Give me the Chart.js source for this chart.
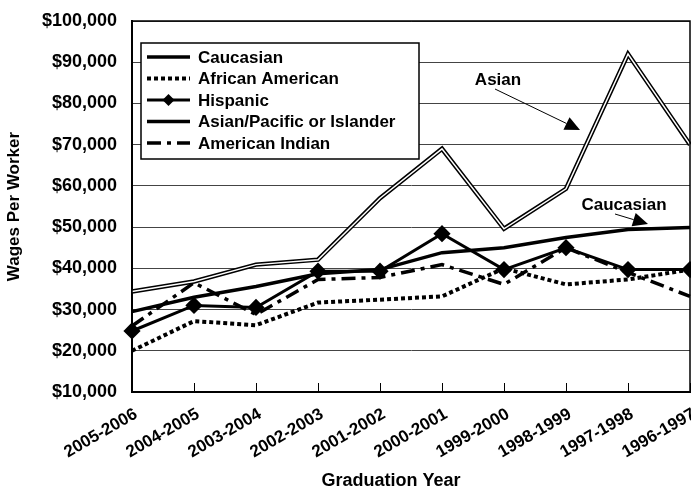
<!DOCTYPE html>
<html lang="en">
<head>
<meta charset="UTF-8">
<script src="https://cdn.jsdelivr.net/npm/chart.js"></script>
<title>Wages Per Worker by Graduation Year</title>
<style>
  html, body { margin: 0; padding: 0; background: #fff; }
  canvas { display: block; }
</style>
</head>
<body>
<canvas id="wages" width="691" height="497"></canvas>
<script>
const years = ['2005-2006', '2004-2005', '2003-2004', '2002-2003', '2001-2002',
               '2000-2001', '1999-2000', '1998-1999', '1997-1998', '1996-1997'];
const caucasian       = [29500, 33000, 35600, 38700, 39700, 43800, 45000, 47500, 49400, 49900];
const africanAmerican = [20000, 27200, 26200, 31700, 32400, 33200, 40000, 36100, 37300, 39700];
const hispanic        = [24800, 31000, 30500, 39300, 39300, 48400, 39700, 45000, 39700, 39700];
const asianPacific    = [34400, 36800, 40900, 42100, 57000, 69000, 49600, 59300, 92000, 70000];
const americanIndian  = [26000, 36500, 28800, 37300, 37800, 40900, 36100, 45000, 39000, 33200];
const yTicks = { min: 10000, max: 100000, step: 10000 };

const FONT = "'Liberation Sans', Arial, sans-serif";
Chart.defaults.font.family = FONT;
Chart.defaults.font.weight = 'bold';
Chart.defaults.font.size = 17;
Chart.defaults.color = '#000';

const legendItems = [
  { text: 'Caucasian', width: 3.5, dash: [] },
  { text: 'African American', width: 4, dash: [4, 3] },
  { text: 'Hispanic', width: 3, dash: [], marker: true },
  { text: 'Asian/Pacific or Islander', width: 3.5, dash: [] },
  { text: 'American Indian', width: 3.5, dash: [14, 6, 4, 6] }
];

// frame, inner x ticks, slanted category labels, legend box and call-outs
const decorations = {
  id: 'decorations',
  afterDatasetsDraw(chart) {
    const { ctx, chartArea: a, scales: { x } } = chart;
    ctx.save();
    ctx.strokeStyle = '#000';
    ctx.fillStyle = '#000';
    ctx.lineWidth = 1.5;
    ctx.strokeRect(a.left, a.top, a.right - a.left, a.bottom - a.top);

    ctx.font = 'bold 17px ' + FONT;
    ctx.textAlign = 'right';
    ctx.textBaseline = 'middle';
    years.forEach((lab, i) => {
      const px = x.getPixelForValue(i);
      ctx.lineWidth = 1;
      ctx.beginPath();
      ctx.moveTo(Math.round(px) + 0.5, a.bottom);
      ctx.lineTo(Math.round(px) + 0.5, a.bottom - 9);
      ctx.stroke();
      ctx.save();
      ctx.translate(px + 4, a.bottom + 21);
      ctx.rotate(-Math.PI / 6);
      ctx.fillText(lab, 0, 0);
      ctx.restore();
    });

    ctx.textAlign = 'center';
    ctx.font = 'bold 18px ' + FONT;
    ctx.fillText('Graduation Year', 391, 481);

    // legend
    const lx = a.left + 9, ly = a.top + 22, lw = 278, lh = 116;
    ctx.fillStyle = '#fff';
    ctx.fillRect(lx, ly, lw, lh);
    ctx.lineWidth = 1.5;
    ctx.strokeRect(lx, ly, lw, lh);
    ctx.font = 'bold 17px ' + FONT;
    ctx.textAlign = 'left';
    legendItems.forEach((it, i) => {
      const cy = ly + 14 + i * 21.5;
      ctx.lineWidth = it.width;
      ctx.setLineDash(it.dash);
      ctx.beginPath();
      ctx.moveTo(lx + 6, cy);
      ctx.lineTo(lx + 49, cy);
      ctx.stroke();
      ctx.setLineDash([]);
      ctx.fillStyle = '#000';
      if (it.marker) {
        ctx.beginPath();
        ctx.moveTo(lx + 27.5, cy - 6);
        ctx.lineTo(lx + 33.5, cy);
        ctx.lineTo(lx + 27.5, cy + 6);
        ctx.lineTo(lx + 21.5, cy);
        ctx.closePath();
        ctx.fill();
      }
      ctx.fillText(it.text, lx + 57, cy + 1);
    });

    // call-outs
    const arrow = (x1, y1, x2, y2) => {
      const ang = Math.atan2(y2 - y1, x2 - x1);
      const hl = 15, hw = 7;
      const bx = x2 - hl * Math.cos(ang), by = y2 - hl * Math.sin(ang);
      ctx.lineWidth = 1;
      ctx.beginPath();
      ctx.moveTo(x1, y1);
      ctx.lineTo(bx, by);
      ctx.stroke();
      ctx.beginPath();
      ctx.moveTo(x2, y2);
      ctx.lineTo(bx + hw * Math.sin(ang), by - hw * Math.cos(ang));
      ctx.lineTo(bx - hw * Math.sin(ang), by + hw * Math.cos(ang));
      ctx.closePath();
      ctx.fill();
    };
    ctx.textAlign = 'center';
    ctx.fillText('Asian', 498, 80);
    arrow(495, 89, 580, 130);
    ctx.fillText('Caucasian', 624, 205);
    arrow(615, 214, 648, 224);
    ctx.restore();
  }
};

const plain = { pointRadius: 0, fill: false, tension: 0, borderColor: '#000', clip: false };

new Chart(document.getElementById('wages'), {
  type: 'line',
  data: {
    labels: years,
    datasets: [
      { ...plain, label: 'Asian inner', data: asianPacific, borderColor: '#fff', borderWidth: 1.5 },
      { ...plain, label: 'Asian/Pacific or Islander', data: asianPacific, borderWidth: 4.5 },
      { ...plain, label: 'Hispanic', data: hispanic, borderWidth: 3,
        pointStyle: 'rectRot', pointRadius: 6.5, pointBackgroundColor: '#000', pointBorderColor: '#000' },
      { ...plain, label: 'Caucasian', data: caucasian, borderWidth: 3.5 },
      { ...plain, label: 'American Indian', data: americanIndian, borderWidth: 3.5, borderDash: [14, 6, 4, 6] },
      { ...plain, label: 'African American', data: africanAmerican, borderWidth: 4, borderDash: [4, 3] }
    ]
  },
  options: {
    responsive: false,
    animation: false,
    layout: { autoPadding: false, padding: { top: 21, right: 1, left: 0, bottom: 0 } },
    plugins: { legend: { display: false }, tooltip: { enabled: false } },
    scales: {
      x: {
        offset: false,
        grid: { display: false },
        border: { display: true, color: '#000', width: 2 },
        ticks: { display: false },
        afterFit(s) { s.height = 105; }
      },
      y: {
        min: yTicks.min,
        max: yTicks.max,
        grid: { color: '#444', lineWidth: 1, drawTicks: false },
        border: { display: true, color: '#000', width: 2 },
        ticks: {
          stepSize: yTicks.step,
          padding: 15,
          font: { size: 18 },
          callback: v => '$' + v.toLocaleString('en-US')
        },
        title: { display: true, text: 'Wages Per Worker' },
        afterFit(s) { s.width = 132; s.paddingTop = 0; s.paddingBottom = 0; }
      }
    }
  },
  plugins: [decorations]
});
</script>
</body>
</html>
